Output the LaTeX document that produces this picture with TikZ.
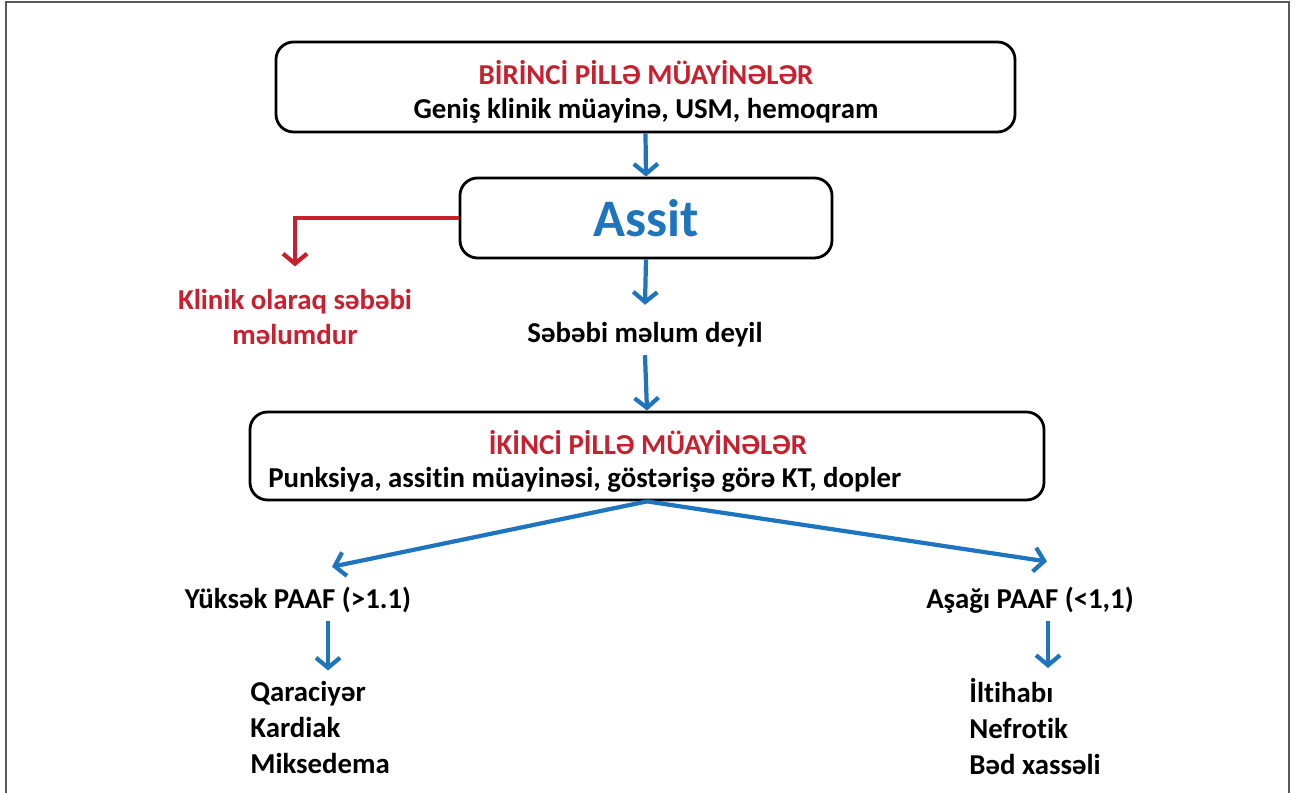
\documentclass[tikz,border=0pt]{standalone}
\usepackage{fontspec}
\setmainfont[Ligatures=CommonOff]{Carlito}
\usetikzlibrary{arrows.meta,positioning}
\definecolor{flowblue}{RGB}{31,116,190}
\definecolor{flowred}{RGB}{200,32,46}

\begin{document}
\begin{tikzpicture}[
    font=\fontsize{16.4}{19}\selectfont\bfseries,
    stagebox/.style={draw, line width=1.6pt, rounded corners=10pt, fill=white},
    bluearrow/.style={flowblue, line width=2.4pt, -{Straight Barb[length=2mm,width=4.8mm]}},
    redarrow/.style={flowred, line width=2.4pt, -{Straight Barb[length=2mm,width=4.8mm]}},
    plain/.style={inner sep=0pt}
  ]
  \useasboundingbox (0, 0) rectangle (25.94, 15.86);
  \draw[gray!70!black, line width=1pt] (0.12, 0) -- (0.12, 15.82) -- (25.78, 15.82) -- (25.78, 0);

  % first stage
  \node[stagebox, minimum width=14.78cm, minimum height=1.8cm] (first) at (12.91, 14.12) {};
  \node[plain, text=flowred] (firsttitle) at (12.92, 14.41) {BİRİNCİ PİLLƏ MÜAYİNƏLƏR};
  \node[plain] (firsttext) at (12.92, 13.65) {Geniş klinik müayinə, USM, hemoqram};
  \node[stagebox, minimum width=7.44cm, minimum height=1.6cm, text=flowblue,
    font=\fontsize{30}{34}\selectfont\bfseries] (assit) at (12.92, 11.5) {Assit};
  \node[plain, text=flowred, align=center] (known) at (5.9, 9.52)
    {Klinik olaraq səbəbi\\[0.9pt] məlumdur};
  \node[plain] (unknown) at (12.9, 9.16) {Səbəbi məlum deyil};

  % second stage
  \node[stagebox, minimum width=15.88cm, minimum height=1.76cm] (second) at (12.94, 6.74) {};
  \node[plain, text=flowred] (secondtitle) at (12.96, 7.0) {İKİNCİ PİLLƏ MÜAYİNƏLƏR};
  \node[plain, anchor=west] (secondtext) at (5.36, 6.27) {Punksiya, assitin müayinəsi, göstərişə görə KT, dopler};

  \node[plain] (high) at (5.96, 3.86) {Yüksək PAAF (>1.1)};
  \node[plain] (low) at (20.6, 3.86) {Aşağı PAAF (<1,1)};
  \node[plain, anchor=north west, align=left, font=\fontsize{16.4}{20.5}\selectfont\bfseries] (highlist) at (5.0, 2.25)
    {Qaraciyər\\ Kardiak\\ Miksedema};
  \node[plain, anchor=north west, align=left, font=\fontsize{16.4}{20.5}\selectfont\bfseries] (lowlist) at (19.38, 2.3)
    {İltihabı\\ Nefrotik\\ Bəd xassəli};

  % connectors
  \draw[bluearrow] (first.south) -- (assit.north);
  \draw[redarrow] (assit.west) -| ([yshift=0.45cm]known.north);
  \draw[bluearrow] (assit.south) -- ([yshift=0.35cm]unknown.north);
  \draw[bluearrow] ([yshift=-0.15cm]unknown.south) -- (second.north);
  \draw[bluearrow] (second.south) -- ([xshift=0.68cm, yshift=0.4cm]high.north);
  \draw[bluearrow] (second.south) -- ([xshift=0.34cm, yshift=0.5cm]low.north);
  \draw[bluearrow] ([xshift=0.6cm, yshift=-0.15cm]high.south) -- ([xshift=0.6cm, yshift=0.2cm]high.south |- highlist.north);
  \draw[bluearrow] ([xshift=0.36cm, yshift=-0.15cm]low.south) -- ([xshift=0.36cm, yshift=0.2cm]low.south |- lowlist.north);
\end{tikzpicture}
\end{document}
